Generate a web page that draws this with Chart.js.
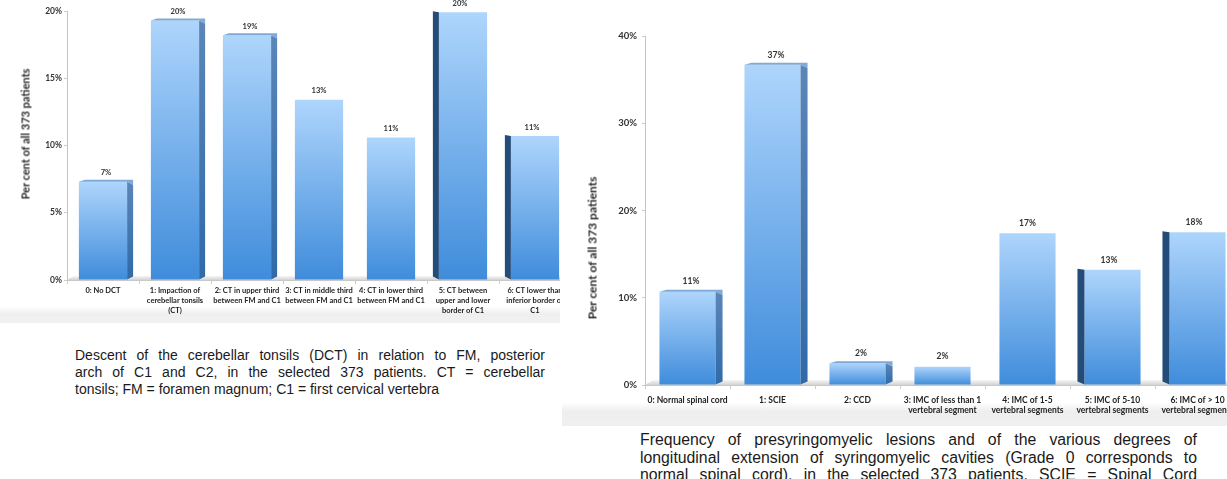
<!DOCTYPE html>
<html><head><meta charset="utf-8">
<script src="https://cdn.jsdelivr.net/npm/chart.js@4.4.1/dist/chart.umd.min.js"></script>
<style>
html,body{margin:0;padding:0;width:1227px;height:479px;overflow:hidden;background:#fff;}
.panel{position:absolute;overflow:hidden;}
.band{position:absolute;}
.ytitle{position:absolute;font-family:Lato,'Open Sans',sans-serif;font-weight:700;color:#2a2a2a;white-space:nowrap;transform:translate(-50%,-50%) rotate(-90deg);}
.cap{position:absolute;font-family:'Liberation Sans',Arial,sans-serif;color:#1a1a1a;}
.cap div{text-align:justify;text-align-last:justify;}
.cap div.last{text-align-last:left;}
</style></head>
<body>
<div class="band" style="left:0;top:306px;width:560px;height:17px;background:linear-gradient(#ffffff,#efefef 45%,#f1f1f1);"></div>
<div class="band" style="left:562px;top:402px;width:665px;height:24px;background:linear-gradient(#ffffff,#eeeeee 40%,#f0f0f0);"></div>
<div class="panel" style="left:0;top:0;width:560px;height:322px;"><canvas id="c1" width="580" height="322"></canvas></div>
<div class="panel" style="left:562px;top:0;width:665px;height:425px;"><canvas id="c2" width="690" height="425"></canvas></div>
<div class="ytitle" style="left:25px;top:134px;font-size:11px;">Per cent of all 373 patients</div>
<div class="ytitle" style="left:592px;top:248px;font-size:12px;">Per cent of all 373 patients</div>
<div class="cap" style="left:75px;top:347px;width:470px;font-size:14px;line-height:17px;">
<div>Descent of the cerebellar tonsils (DCT) in relation to FM, posterior</div>
<div>arch of C1 and C2, in the selected 373 patients. CT = cerebellar</div>
<div class="last">tonsils; FM = foramen magnum; C1 = first cervical vertebra</div>
</div>
<div class="cap" style="left:640px;top:431px;width:557px;font-size:15.8px;line-height:17.5px;">
<div>Frequency of presyringomyelic lesions and of the various degrees of</div>
<div>longitudinal extension of syringomyelic cavities (Grade 0 corresponds to</div>
<div>normal spinal cord), in the selected 373 patients. SCIE = Spinal Cord</div>
</div>
<script>
// ---- data: left chart (descent of cerebellar tonsils) ----
const leftCategories = [
  '0: No DCT',
  ['1: Impaction of','cerebellar tonsils','(CT)'],
  ['2: CT in upper third','between FM and C1'],
  ['3: CT in middle third','between FM and C1'],
  ['4: CT in lower third','between FM and C1'],
  ['5: CT between','upper and lower','border of C1'],
  ['6: CT lower than','inferior border of','C1']
];
const leftValues = [7.3, 19.3, 18.2, 13.4, 10.6, 19.9, 10.7];
const leftValueLabels = ['7%','20%','19%','13%','11%','20%','11%'];
const leftYTicks = [0, 5, 10, 15, 20];

// ---- data: right chart (syringomyelic cavities) ----
const rightCategories = [
  '0: Normal spinal cord',
  '1: SCIE',
  '2: CCD',
  ['3: IMC of less than 1','vertebral segment'],
  ['4: IMC of 1-5','vertebral segments'],
  ['5: IMC of 5-10','vertebral segments'],
  ['6: IMC of > 10','vertebral segments']
];
const rightValues = [10.7, 36.7, 2.5, 2.1, 17.4, 13.2, 17.5];
const rightValueLabels = ['11%','37%','2%','2%','17%','13%','18%'];
const rightYTicks = [0, 10, 20, 30, 40];

const FONT = 'Lato, "Open Sans", sans-serif';

function barGradient(c){
  const chart = c.chart;
  if (!chart.chartArea || c.type !== 'data' || !chart.scales.y) return '#6aaae8';
  const y = chart.scales.y;
  const top = y.getPixelForValue(c.raw), bot = y.getPixelForValue(0);
  const g = chart.ctx.createLinearGradient(0, Math.min(top, bot - 1), 0, bot);
  g.addColorStop(0, '#aed5fc');
  g.addColorStop(1, '#3f8cdb');
  return g;
}

const bar3d = {
  id: 'bar3d',
  beforeDatasetsDraw(chart, args, opts){
    const {ctx, chartArea} = chart;
    const base = chart.scales.y.getPixelForValue(0);
    const d = opts.floor;
    ctx.save();
    ctx.beginPath();
    ctx.moveTo(chartArea.left, base);
    ctx.lineTo(chartArea.left + d * 1.6, base - d);
    ctx.lineTo(chartArea.right, base - d);
    ctx.lineTo(chartArea.right, base);
    ctx.closePath();
    const g = ctx.createLinearGradient(0, base - d, 0, base);
    g.addColorStop(0, '#f6f6f6');
    g.addColorStop(1, '#d2d2d2');
    ctx.fillStyle = g;
    ctx.fill();
    ctx.restore();
  },
  afterDatasetsDraw(chart, args, opts){
    const ctx = chart.ctx;
    const meta = chart.getDatasetMeta(0);
    const sw = opts.side;
    ctx.save();
    meta.data.forEach((bar, i) => {
      const p = bar.getProps(['x','y','base','width'], true);
      const dir = opts.sides[i];
      const l = p.x - p.width / 2, r = p.x + p.width / 2;
      if (dir > 0) {
        ctx.beginPath();
        ctx.moveTo(r, p.y);
        ctx.lineTo(r + sw, p.y + 3);
        ctx.lineTo(r + sw, p.base - 3);
        ctx.lineTo(r, p.base);
        ctx.closePath();
        const g = ctx.createLinearGradient(0, p.y, 0, p.base);
        g.addColorStop(0, '#5b86b8'); g.addColorStop(1, '#2f6aa8');
        ctx.fillStyle = g; ctx.fill();
        ctx.beginPath();
        ctx.moveTo(l, p.y);
        ctx.lineTo(l + sw, p.y - 2);
        ctx.lineTo(r + sw, p.y - 2);
        ctx.lineTo(r + sw, p.y + 3);
        ctx.lineTo(r, p.y);
        ctx.closePath();
        ctx.fillStyle = '#7fa9d6'; ctx.fill();
      } else if (dir < 0) {
        ctx.beginPath();
        ctx.moveTo(l, p.y);
        ctx.lineTo(l - sw, p.y - 1);
        ctx.lineTo(l - sw, p.base - 3);
        ctx.lineTo(l, p.base);
        ctx.closePath();
        ctx.fillStyle = '#234d78'; ctx.fill();
      }
      ctx.font = 'bold ' + opts.labelSize + 'px ' + FONT;
      ctx.fillStyle = '#333';
      ctx.textAlign = 'center';
      ctx.textBaseline = 'middle';
      ctx.fillText(opts.labels[i], p.x + dir * sw / 2, p.y - opts.labelGap);
    });
    ctx.restore();
  }
};

function makeChart(id, cats, vals, valLabels, yTicks, cfg){
  return new Chart(document.getElementById(id), {
    type: 'bar',
    data: {
      labels: cats,
      datasets: [{
        data: vals,
        backgroundColor: barGradient,
        borderWidth: 0,
        barPercentage: cfg.barPct,
        categoryPercentage: 1
      }]
    },
    options: {
      responsive: false,
      animation: false,
      devicePixelRatio: 1,
      layout: { padding: { top: cfg.padTop, right: cfg.padRight, left: 0, bottom: 0 } },
      plugins: {
        legend: { display: false },
        tooltip: { enabled: false },
        bar3d: { sides: [1,1,1,0,0,-1,-1], side: cfg.side, floor: cfg.floor, labels: valLabels, labelSize: cfg.valSize, labelGap: cfg.valGap }
      },
      scales: {
        x: {
          ticks: { font: { family: FONT, weight: 'bold', size: cfg.xSize, lineHeight: cfg.xLine }, color: '#222', padding: cfg.xPad, maxRotation: 0, minRotation: 0, autoSkip: false },
          grid: { offset: true, drawOnChartArea: false, tickLength: 4, color: '#cccccc' },
          border: { color: '#c8c8c8' },
          afterFit(s){ s.height = cfg.xHeight; }
        },
        y: {
          min: yTicks[0], max: yTicks[yTicks.length - 1],
          afterBuildTicks(s){ s.ticks = yTicks.map(v => ({ value: v })); },
          ticks: { callback: v => v + '%', font: { family: FONT, weight: 'bold', size: cfg.ySize }, color: '#333', padding: cfg.yPad },
          grid: { drawOnChartArea: false, tickLength: 3, color: '#cccccc' },
          border: { color: '#c4c4c4' },
          afterFit(s){ s.width = cfg.yWidth; }
        }
      }
    },
    plugins: [bar3d]
  });
}

makeChart('c1', leftCategories, leftValues, leftValueLabels, leftYTicks, {
  barPct: 0.67, padTop: 11, padRight: 9, side: 6, floor: 4, valSize: 7.5, valGap: 9,
  xSize: 7.5, xLine: 1.3, xPad: 2, xHeight: 42, ySize: 8.5, yPad: 2, yWidth: 67
});
makeChart('c2', rightCategories, rightValues, rightValueLabels, rightYTicks, {
  barPct: 0.66, padTop: 36, padRight: 12, side: 7, floor: 5, valSize: 8.5, valGap: 10,
  xSize: 8.5, xLine: 1.2, xPad: 6, xHeight: 40, ySize: 9.5, yPad: 5, yWidth: 83
});
</script>
</body></html>
